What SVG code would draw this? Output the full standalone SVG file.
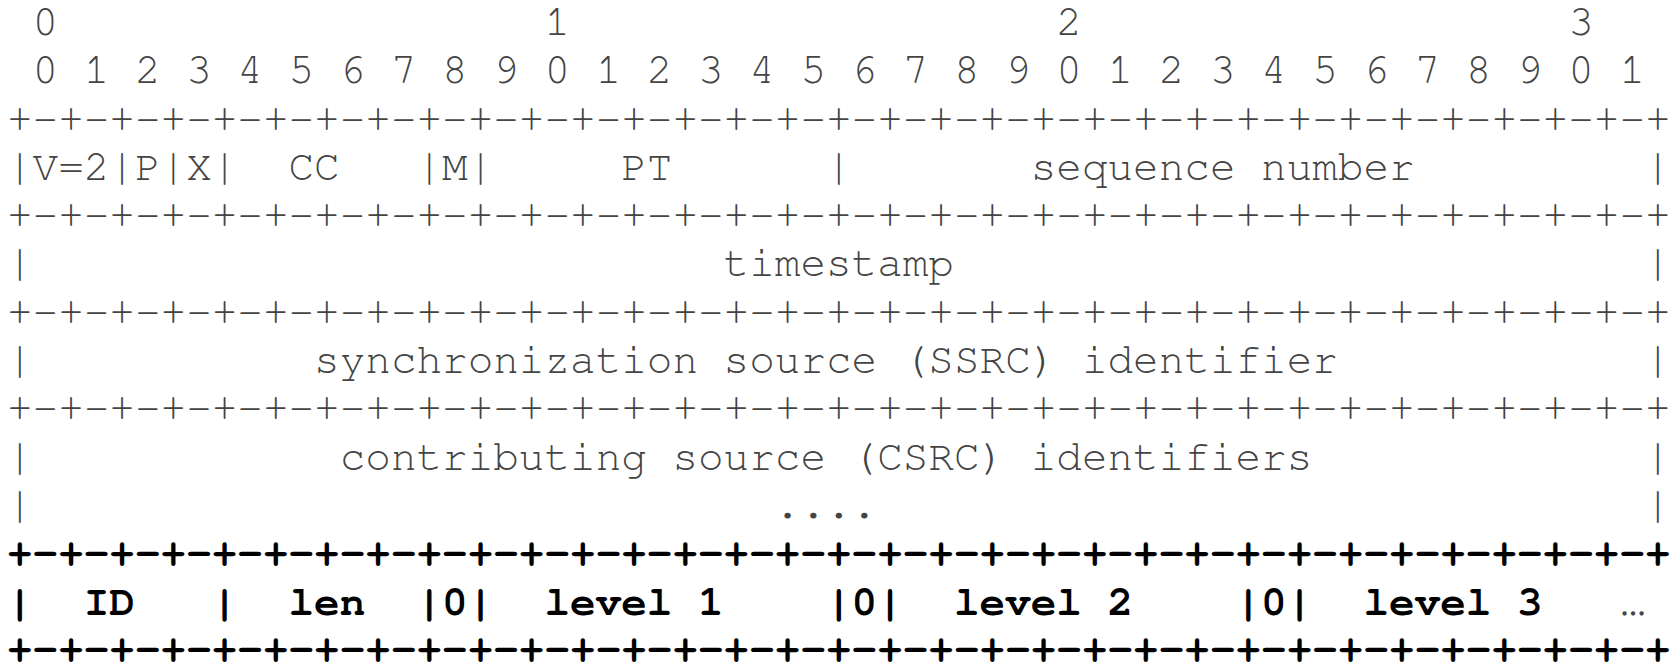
<svg xmlns="http://www.w3.org/2000/svg" width="1676" height="664" viewBox="0 0 1676 664">
<style>
text{font-family:"Nimbus Mono PS","Nimbus Mono L","FreeMono","Courier New","Courier","Liberation Mono",monospace;font-size:42.67px;white-space:pre}
.r{fill:#444}
.b{fill:#000;font-weight:bold}
</style>
<rect width="1676" height="664" fill="#fff"/>
<g id="bit-ruler">
<text class="r" x="7" y="35" xml:space="preserve"> 0                   1                   2                   3</text>
<text class="r" x="7" y="83" xml:space="preserve"> 0 1 2 3 4 5 6 7 8 9 0 1 2 3 4 5 6 7 8 9 0 1 2 3 4 5 6 7 8 9 0 1</text>
</g>
<g id="rtp-header">
<text class="r" x="7" y="132" xml:space="preserve">+-+-+-+-+-+-+-+-+-+-+-+-+-+-+-+-+-+-+-+-+-+-+-+-+-+-+-+-+-+-+-+-+</text>
<text class="r" x="7" y="180" xml:space="preserve">|V=2|P|X|  CC   |M|     PT      |       sequence number         |</text>
<text class="r" x="7" y="228" xml:space="preserve">+-+-+-+-+-+-+-+-+-+-+-+-+-+-+-+-+-+-+-+-+-+-+-+-+-+-+-+-+-+-+-+-+</text>
<text class="r" x="7" y="276" xml:space="preserve">|                           timestamp                           |</text>
<text class="r" x="7" y="325" xml:space="preserve">+-+-+-+-+-+-+-+-+-+-+-+-+-+-+-+-+-+-+-+-+-+-+-+-+-+-+-+-+-+-+-+-+</text>
<text class="r" x="7" y="373" xml:space="preserve">|           synchronization source (SSRC) identifier            |</text>
<text class="r" x="7" y="421" xml:space="preserve">+-+-+-+-+-+-+-+-+-+-+-+-+-+-+-+-+-+-+-+-+-+-+-+-+-+-+-+-+-+-+-+-+</text>
<text class="r" x="7" y="470" xml:space="preserve">|            contributing source (CSRC) identifiers             |</text>
<text class="r" x="7" y="518" xml:space="preserve">|                             ....                              |</text>
</g>
<g id="extension">
<text class="b" x="7" y="566" xml:space="preserve">+-+-+-+-+-+-+-+-+-+-+-+-+-+-+-+-+-+-+-+-+-+-+-+-+-+-+-+-+-+-+-+-+</text>
<text class="b" x="7" y="615" xml:space="preserve">|  ID   |  len  |0|  level 1    |0|  level 2    |0|  level 3</text>
<text class="r" x="1633" y="615" font-size="32" text-anchor="middle">…</text>
<text class="b" x="7" y="662" xml:space="preserve">+-+-+-+-+-+-+-+-+-+-+-+-+-+-+-+-+-+-+-+-+-+-+-+-+-+-+-+-+-+-+-+-+</text>
</g>
</svg>
